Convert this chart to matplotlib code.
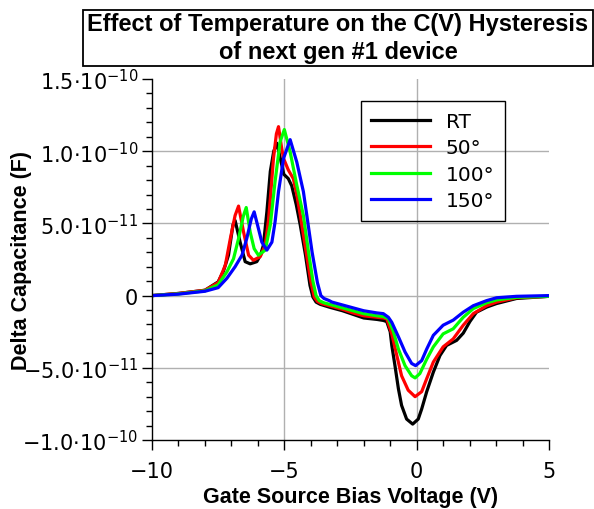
import numpy as np
import matplotlib
matplotlib.use('Agg')
import matplotlib.pyplot as plt
from matplotlib.patches import Rectangle

# values, capacitance in units of 1e-11 F
v_rt = [-10, -9, -8, -7.5, -7.3, -7.11, -6.94, -6.86, -6.67, -6.48, -6.29, -6.04, -5.9,
        -5.79, -5.66, -5.53, -5.4, -5.28, -5.15, -5.02, -4.85, -4.72, -4.55, -4.4, -4.2,
        -4.03, -3.92, -3.8, -3.65, -3.3, -2.8, -2.4, -2.0, -1.5, -1.26, -1.13, -1.0, -0.94,
        -0.82, -0.69, -0.57, -0.38, -0.15, 0.06, 0.19, 0.38, 0.63, 0.88, 1.13, 1.51, 1.76,
        2.01, 2.26, 2.64, 3.02, 3.77, 5.0]
c_rt = [0, 0.15, 0.37, 0.95, 1.7, 2.8, 4.9, 5.2, 3.7, 2.35, 2.2, 2.35, 2.8,
        3.5, 5.8, 8.6, 10.0, 10.55, 9.5, 8.4, 8.1, 7.6, 6.3, 4.9, 2.8,
        0.7, -0.1, -0.45, -0.6, -0.8, -1.05, -1.3, -1.55, -1.65, -1.72, -1.8, -2.5, -3.45,
        -4.85, -6.45, -7.6, -8.55, -8.9, -8.55, -7.85, -6.65, -5.3, -4.15, -3.45, -3.1, -2.6,
        -1.8, -1.15, -0.8, -0.55, -0.2, -0.05]

v_50 = [-10, -9, -8, -7.5, -7.23, -7.04, -6.86, -6.73, -6.54, -6.35, -6.17, -5.91, -5.72,
        -5.6, -5.53, -5.41, -5.3, -5.22, -5.1, -5.03, -4.85, -4.66, -4.53, -4.4, -4.2,
        -4.0, -3.87, -3.75, -3.6, -3.3, -2.8, -2.4, -2.0, -1.5, -1.26, -1.13, -0.94, -0.75,
        -0.57, -0.32, -0.06, 0.19, 0.38, 0.63, 1.0, 1.38, 1.76, 2.14, 2.64, 3.02, 3.77, 5.0]
c_50 = [0, 0.15, 0.37, 0.9, 2.1, 3.95, 5.55, 6.2, 4.4, 2.8, 2.45, 2.7, 3.5,
        5.2, 6.7, 9.5, 11.2, 11.7, 10.2, 9.5, 8.7, 8.1, 7.0, 5.6, 3.3,
        1.0, -0.1, -0.4, -0.55, -0.7, -0.95, -1.2, -1.4, -1.5, -1.55, -1.6, -2.65, -4.15,
        -5.55, -6.55, -7.0, -6.65, -5.75, -4.6, -3.55, -3.0, -2.05, -1.25, -0.7, -0.45, -0.15, -0.05]

v_100 = [-10, -9, -8, -7.5, -7.17, -6.92, -6.73, -6.55, -6.44, -6.29, -6.14, -5.98, -5.72,
         -5.53, -5.35, -5.16, -5.0, -4.78, -4.53, -4.28, -4.1, -3.92, -3.8, -3.68, -3.5,
         -3.3, -2.8, -2.4, -2.0, -1.5, -1.26, -1.07, -0.88, -0.69, -0.44, -0.19, -0.06, 0.12,
         0.38, 0.63, 1.0, 1.38, 1.76, 2.14, 2.64, 3.02, 3.77, 5.0]
c_100 = [0, 0.12, 0.33, 0.75, 1.65, 2.55, 3.95, 5.5, 6.1, 4.4, 3.25, 2.8, 3.15,
         4.9, 7.9, 10.65, 11.5, 9.95, 7.65, 5.55, 3.2, 1.0, 0.0, -0.35, -0.5,
         -0.6, -0.85, -1.05, -1.25, -1.4, -1.45, -1.6, -2.5, -3.7, -4.85, -5.55, -5.7, -5.4,
         -4.4, -3.55, -2.65, -2.3, -1.5, -0.9, -0.5, -0.3, -0.12, -0.05]

v_150 = [-10, -9, -8, -7.5, -7.17, -6.86, -6.6, -6.42, -6.25, -6.14, -5.98, -5.85, -5.66,
         -5.47, -5.35, -5.22, -5.03, -4.78, -4.53, -4.28, -4.15, -3.95, -3.75, -3.62, -3.5,
         -3.3, -3.2, -2.7, -2.2, -2.0, -1.5, -1.26, -1.07, -0.94, -0.69, -0.44, -0.19, -0.04,
         0.19, 0.38, 0.63, 1.0, 1.38, 1.76, 2.14, 2.64, 3.02, 3.77, 5.0]
c_150 = [0, 0.1, 0.3, 0.55, 1.2, 2.0, 2.8, 3.95, 5.3, 5.8, 4.65, 3.7, 3.15,
         3.7, 5.1, 7.2, 9.5, 10.8, 9.25, 7.2, 5.55, 3.0, 0.9, 0.0, -0.2,
         -0.35, -0.45, -0.7, -0.95, -1.05, -1.2, -1.25, -1.5, -1.85, -2.85, -3.9, -4.7, -4.85,
         -4.5, -3.7, -2.75, -2.05, -1.7, -1.15, -0.7, -0.35, -0.15, -0.05, 0]

labels = ['RT', '50°', '100°', '150°']
colors = ['black', '#ff0000', '#00ff00', '#0000ff']

x_ticks = [-10, -5, 0, 5]
x_ticklabels = ['\u221210', '\u22125', '0', '5']
y_ticks = [-1e-10, -5e-11, 0, 5e-11, 1e-10, 1.5e-10]
y_ticklabels = [r'$-1.0{\cdot}10^{-10}$', r'$-5.0{\cdot}10^{-11}$', '0',
                r'$5.0{\cdot}10^{-11}$', r'$1.0{\cdot}10^{-10}$', r'$1.5{\cdot}10^{-10}$']

W, H = 594, 510
fig = plt.figure(figsize=(W / 100, H / 100), dpi=100)
ax = fig.add_axes([152 / W, 1 - 441 / H, 397 / W, 361 / H])

# grid lines only inside the frame
for xv in [-5, 0]:
    ax.axvline(xv, color='#b0b0b0', lw=1, zorder=0)
for yv in [-5e-11, 0, 5e-11, 1e-10]:
    ax.axhline(yv, color='#b0b0b0', lw=1, zorder=0)

series = [(v_rt, c_rt), (v_50, c_50), (v_100, c_100), (v_150, c_150)]
for (v, c), lab, col in zip(series, labels, colors):
    ax.plot(v, np.array(c) * 1e-11, color=col, lw=2.3, label=lab, solid_joinstyle='round')

ax.set_xlim(-10, 5)
ax.set_ylim(-1e-10, 1.5e-10)
ax.set_xticks(x_ticks)
ax.set_xticklabels(x_ticklabels)
ax.set_xticks(np.arange(-10, 5.1, 1), minor=True)
ax.set_yticks(y_ticks)
ax.set_yticklabels(y_ticklabels)
ax.set_yticks(np.arange(-1e-10, 1.51e-10, 1e-11), minor=True)
ax.tick_params(which='major', direction='out', length=7, width=1, labelsize=15, pad=3)
ax.tick_params(which='minor', direction='out', length=4.3, width=1)
ax.tick_params(axis='x', which='major', pad=8)

for s in ['top', 'right']:
    ax.spines[s].set_visible(False)
for s in ['left', 'bottom']:
    ax.spines[s].set_linewidth(1)

ax.set_xlabel('Gate Source Bias Voltage (V)', fontsize=15.5, fontweight='bold',
              family='Liberation Sans', va='center')
ax.xaxis.set_label_coords(0.5, (441 - 498) / 361)
ax.set_ylabel('Delta Capacitance (F)', fontsize=15.5, fontweight='bold',
              family='Liberation Sans', va='center')
ax.yaxis.set_label_coords((22 - 152) / 397, 0.5)

leg = ax.legend(loc='upper left', bbox_to_anchor=(360.7 / W, 1 - 102.3 / H),
                bbox_transform=fig.transFigure, borderaxespad=0, fontsize=14.5,
                frameon=True, fancybox=False, edgecolor='black', facecolor='none',
                handlelength=2.9, handletextpad=0.8, labelspacing=0.37, borderpad=0.52)
leg.get_frame().set_linewidth(1)
leg.get_frame().set_alpha(None)

# title in a box
fig.patches.append(Rectangle((82.7 / W, 1 - 66.7 / H), 510 / W, 56 / H,
                             transform=fig.transFigure, fill=False, lw=1.3,
                             edgecolor='black'))
fig.text(338 / W, 1 - 38.7 / H, 'Effect of Temperature on the C(V) Hysteresis\nof next gen #1 device',
         ha='center', va='center', fontsize=17, fontweight='bold',
         family='Liberation Sans', linespacing=1.3)

fig.savefig('out.png', dpi=100)
